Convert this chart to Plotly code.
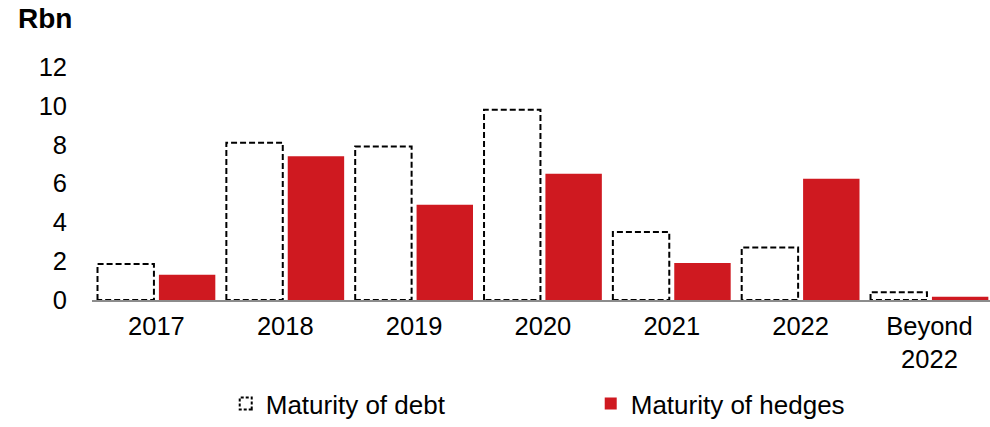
import plotly.graph_objects as go

categories = ["2017", "2018", "2019", "2020", "2021", "2022", "Beyond 2022"]
tick_labels = ["2017", "2018", "2019", "2020", "2021", "2022", "Beyond<br>2022"]
debt = [1.85, 8.1, 7.9, 9.8, 3.5, 2.7, 0.4]
hedges = [1.3, 7.4, 4.9, 6.5, 1.9, 6.25, 0.17]
y_ticks = [0, 2, 4, 6, 8, 10, 12]

FONT = "Liberation Sans, Arial, sans-serif"
RED = "#CF1920"

fig = go.Figure()
fig.add_trace(go.Bar(
    x=categories, y=debt, name="Maturity of debt",
    marker=dict(color="white", line=dict(color="black", width=2)),
))
fig.add_trace(go.Bar(
    x=categories, y=hedges, name="Maturity of hedges",
    marker=dict(color=RED, line=dict(width=0)),
))

fig.update_layout(
    width=990, height=427,
    margin=dict(l=91.5, r=0, t=66.7, b=126.7),
    paper_bgcolor="white", plot_bgcolor="white",
    font=dict(family=FONT, size=25.5, color="black"),
    barmode="group", bargap=0.047, bargroupgap=0.081,
    showlegend=True,
    legend=dict(
        orientation="h", xref="container", yref="container",
        x=0.228, xanchor="left", y=-0.012, yanchor="bottom",
        font=dict(size=26), entrywidth=320, entrywidthmode="pixels",
        bgcolor="rgba(0,0,0,0)",
    ),
    xaxis=dict(
        type="category", range=[-0.5, 6.47],
        tickvals=categories, ticktext=tick_labels,
        showline=True, linecolor="#8c8c8c", linewidth=2,
        showgrid=False, ticks="", zeroline=False,
        ticklabelstandoff=2,
    ),
    yaxis=dict(
        range=[0, 12], tickvals=y_ticks,
        showgrid=False, zeroline=False, showline=False, ticks="",
        ticklabelstandoff=24,
    ),
    annotations=[dict(
        text="<b>Rbn</b>", xref="paper", yref="paper",
        x=(15 - 91.5) / 898.5, y=1.21, xanchor="left", yanchor="middle",
        showarrow=False, font=dict(size=28),
    )],
)

post_script = """
var s = document.createElement('style');
s.textContent = '.barlayer .trace:first-child .point path{stroke-dasharray:6px 3px;}' +
  '.legend .traces:first-child .legendpoints path{stroke-dasharray:3px 2px;}';
document.head.appendChild(s);
"""

fig.write_html("out.html", post_script=post_script)
